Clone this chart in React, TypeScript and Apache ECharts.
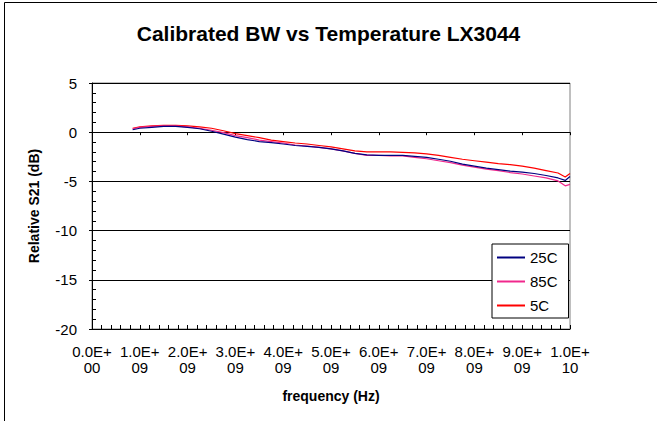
import React, { useEffect, useRef } from "react";
import * as echarts from "echarts";

const freqs = [
  0.85e9, 1.0e9, 1.25e9, 1.5e9, 1.75e9, 2.0e9, 2.25e9, 2.5e9, 2.75e9, 3.0e9,
  3.25e9, 3.5e9, 3.75e9, 4.0e9, 4.25e9, 4.5e9, 4.75e9, 5.0e9, 5.25e9, 5.5e9,
  5.75e9, 6.0e9, 6.25e9, 6.5e9, 6.75e9, 7.0e9, 7.25e9, 7.5e9, 7.75e9, 8.0e9,
  8.25e9, 8.5e9, 8.75e9, 9.0e9, 9.25e9, 9.5e9, 9.75e9, 9.9e9, 10.0e9,
];

const s25C = [
  0.25, 0.4, 0.5, 0.6, 0.6, 0.5, 0.35, 0.1, -0.2, -0.5,
  -0.75, -0.95, -1.05, -1.2, -1.35, -1.45, -1.55, -1.7, -1.9, -2.15,
  -2.3, -2.35, -2.35, -2.35, -2.45, -2.55, -2.75, -2.95, -3.25, -3.45,
  -3.65, -3.8, -3.95, -4.05, -4.2, -4.4, -4.65, -4.9, -4.5,
];

const s85C = [
  0.35, 0.5, 0.6, 0.65, 0.65, 0.55, 0.4, 0.2, -0.05, -0.35,
  -0.55, -0.8, -0.95, -1.1, -1.3, -1.4, -1.55, -1.7, -1.9, -2.15,
  -2.35, -2.35, -2.4, -2.4, -2.55, -2.7, -2.9, -3.1, -3.35, -3.55,
  -3.75, -3.9, -4.1, -4.25, -4.45, -4.65, -4.95, -5.45, -5.3,
];

const s5C = [
  0.4, 0.55, 0.65, 0.7, 0.7, 0.65, 0.55, 0.4, 0.15, -0.15,
  -0.35, -0.55, -0.8, -0.95, -1.1, -1.2, -1.35, -1.5, -1.7, -1.9,
  -2.0, -2.0, -2.0, -2.05, -2.1, -2.2, -2.35, -2.55, -2.75, -2.9,
  -3.05, -3.2, -3.3, -3.45, -3.65, -3.9, -4.15, -4.55, -4.2,
];

const seriesNames = ["25C", "85C", "5C"];
const seriesColors = ["#000080", "#F0288C", "#FF0000"];
const seriesValues = [s25C, s85C, s5C];

const FONT = "Arial, 'Liberation Sans', Helvetica, sans-serif";

function fmtX(v: number): string {
  if (v === 0) return "0.0E+\n00";
  const e = Math.floor(Math.log10(v) + 1e-9);
  const m = v / Math.pow(10, e);
  return m.toFixed(1) + "E+\n" + String(e).padStart(2, "0");
}

export default function App() {
  const ref = useRef<HTMLDivElement>(null);
  useEffect(() => {
    if (!ref.current) return;
    const chart = echarts.init(ref.current, undefined, { renderer: "svg" });
    const option: any = {
      animation: false,
      backgroundColor: "#ffffff",
      title: {
        text: "Calibrated BW vs Temperature LX3044",
        left: "center",
        top: 18,
        textStyle: { fontFamily: FONT, fontSize: 21, fontWeight: "bold", color: "#000" },
      },
      grid: {
        left: 92,
        right: 87,
        top: 83,
        bottom: 92,
        show: true,
        borderColor: "#808080",
        borderWidth: 1,
        backgroundColor: "transparent",
      },
      legend: {
        orient: "vertical",
        left: 492,
        top: 244,
        itemWidth: 28,
        itemHeight: 2,
        itemGap: 9,
        icon: "rect",
        padding: [6, 11, 5, 5],
        backgroundColor: "#fff",
        borderColor: "#000",
        borderWidth: 1,
        borderRadius: 0,
        textStyle: { fontFamily: FONT, fontSize: 15, color: "#000" },
        data: seriesNames,
      },
      xAxis: [
        {
          type: "value",
          min: 0,
          max: 1e10,
          interval: 1e9,
          axisLine: { show: true, onZero: false, lineStyle: { color: "#000", width: 1 } },
          axisTick: { show: true, inside: true, length: 4, lineStyle: { color: "#000" } },
          minorTick: { show: true, splitNumber: 5, length: 4, lineStyle: { color: "#000" } },
          splitLine: { show: false },
          axisLabel: {
            formatter: fmtX,
            margin: 14,
            fontFamily: FONT,
            fontSize: 15,
            color: "#000",
            lineHeight: 16,
          },
          name: "frequency (Hz)",
          nameLocation: "middle",
          nameGap: 60,
          nameTextStyle: { fontFamily: FONT, fontSize: 14, fontWeight: "bold", color: "#000" },
        },
        {
          type: "value",
          min: 0,
          max: 1e10,
          interval: 1e9,
          position: "bottom",
          axisLine: { show: false },
          axisTick: { show: true, inside: false, length: 3, lineStyle: { color: "#000" } },
          axisLabel: { show: false },
          splitLine: { show: false },
        },
      ],
      yAxis: [
        {
          type: "value",
          min: -20,
          max: 5,
          interval: 5,
          axisLine: { show: true, onZero: false, lineStyle: { color: "#000", width: 1 } },
          axisTick: { show: true, inside: true, length: 4, lineStyle: { color: "#000" } },
          minorTick: { show: true, splitNumber: 5, length: 4, lineStyle: { color: "#000" } },
          splitLine: { show: true, lineStyle: { color: "#000", width: 1 } },
          axisLabel: { margin: 15, fontFamily: FONT, fontSize: 15, color: "#000" },
          name: "Relative S21 (dB)",
          nameLocation: "middle",
          nameGap: 51,
          nameTextStyle: { fontFamily: FONT, fontSize: 14, fontWeight: "bold", color: "#000" },
        },
        {
          type: "value",
          min: -20,
          max: 5,
          interval: 5,
          position: "left",
          axisLine: { show: false },
          axisTick: { show: true, inside: false, length: 3, lineStyle: { color: "#000" } },
          axisLabel: { show: false },
          splitLine: { show: false },
        },
      ],
      series: seriesNames.map((name, i) => ({
        name,
        type: "line",
        xAxisIndex: 0,
        yAxisIndex: 0,
        symbol: "none",
        showSymbol: false,
        color: seriesColors[i],
        lineStyle: { color: seriesColors[i], width: 1.2 },
        data: freqs.map((f, j) => [f, seriesValues[i][j]]),
        z: 3 + (2 - i),
      })),
      graphic: [
        {
          type: "rect",
          shape: { x: 4.5, y: 2.5, width: 1000, height: 1000 },
          style: { fill: "none", stroke: "#000", lineWidth: 1 },
          silent: true,
        },
      ],
    };
    chart.setOption(option);
    return () => chart.dispose();
  }, []);
  return (
    <div
      ref={ref}
      style={{ position: "absolute", left: 0, top: 0, width: 657, height: 421 }}
    />
  );
}
